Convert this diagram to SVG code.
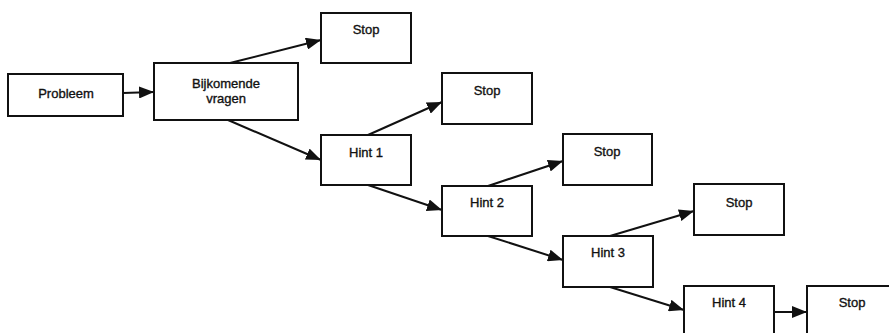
<svg xmlns="http://www.w3.org/2000/svg" width="889" height="333" viewBox="0 0 889 333">
<defs>
<style>
.box{fill:#fff;stroke:#111;stroke-width:2}
.lbl{font-family:"Liberation Sans",Arial,sans-serif;font-size:13px;fill:#111;stroke:#111;stroke-width:0.35;text-anchor:middle}
.c{stroke:#111;stroke-width:2;fill:none;marker-end:url(#ah)}
</style>
<marker id="ah" viewBox="0 0 15 12" refX="15" refY="6" markerWidth="15" markerHeight="12" markerUnits="userSpaceOnUse" orient="auto">
<path d="M0,0 L15,6 L0,12 Z" fill="#111"/>
</marker>
</defs>
<rect width="889" height="333" fill="#fff"/>
<g id="connectors">
<line class="c" x1="123" y1="93" x2="154" y2="92"/>
<line class="c" x1="230" y1="63" x2="321" y2="40"/>
<line class="c" x1="228" y1="120" x2="321" y2="160"/>
<line class="c" x1="368" y1="135" x2="442" y2="102"/>
<line class="c" x1="368" y1="185" x2="442" y2="210"/>
<line class="c" x1="488" y1="186" x2="563" y2="161"/>
<line class="c" x1="488" y1="236" x2="563" y2="260"/>
<line class="c" x1="610" y1="236" x2="694" y2="211"/>
<line class="c" x1="610" y1="287" x2="684" y2="310"/>
<line class="c" x1="774" y1="312" x2="807" y2="312"/>
</g>
<g id="probleem"><rect class="box" x="8" y="74" width="115" height="42"/><text class="lbl" x="66" y="98">Probleem</text></g>
<g id="bijkomende"><rect class="box" x="154" y="63" width="144" height="57"/><text class="lbl" x="226" y="88">Bijkomende</text><text class="lbl" x="226" y="103">vragen</text></g>
<g id="stop1"><rect class="box" x="321" y="13" width="90" height="50"/><text class="lbl" x="366" y="34">Stop</text></g>
<g id="hint1"><rect class="box" x="321" y="135" width="90" height="50"/><text class="lbl" x="366" y="157">Hint 1</text></g>
<g id="stop2"><rect class="box" x="442" y="73" width="90" height="51"/><text class="lbl" x="487" y="95">Stop</text></g>
<g id="hint2"><rect class="box" x="442" y="186" width="90" height="50"/><text class="lbl" x="487" y="207">Hint 2</text></g>
<g id="stop3"><rect class="box" x="563" y="134" width="89" height="51"/><text class="lbl" x="607" y="156">Stop</text></g>
<g id="hint3"><rect class="box" x="563" y="236" width="90" height="51"/><text class="lbl" x="608" y="257">Hint 3</text></g>
<g id="stop4"><rect class="box" x="694" y="184" width="90" height="51"/><text class="lbl" x="739" y="207">Stop</text></g>
<g id="hint4"><rect class="box" x="684" y="286" width="90" height="52"/><text class="lbl" x="729" y="307">Hint 4</text></g>
<g id="stop5"><rect class="box" x="807" y="286" width="90" height="52"/><text class="lbl" x="852" y="307">Stop</text></g>
</svg>
